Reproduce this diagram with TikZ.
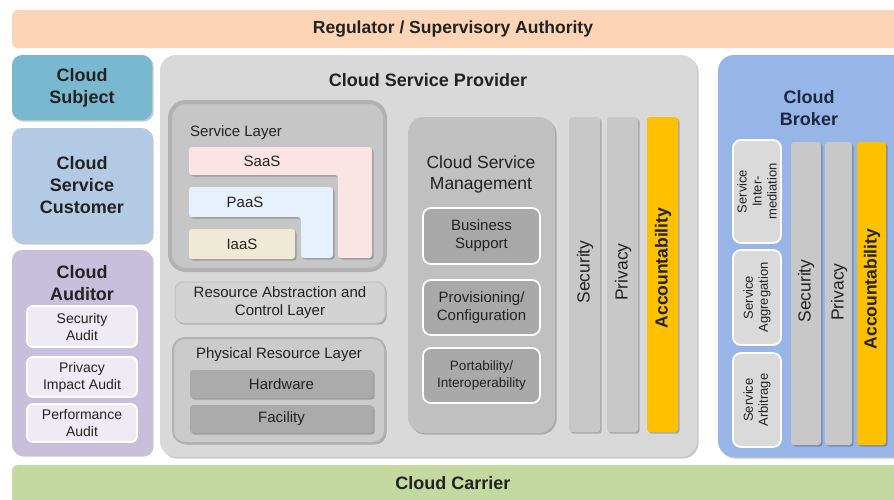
\documentclass[tikz,border=0pt]{standalone}
\usepackage{fontspec}
\setmainfont{Liberation Sans}
\usetikzlibrary{fit,shadows}
\definecolor{txt}{HTML}{222222}
\definecolor{navy}{HTML}{1C2743}
\definecolor{reg}{HTML}{FBD5B5}
\definecolor{subj}{HTML}{79B9CF}
\definecolor{cust}{HTML}{B3CAE4}
\definecolor{aud}{HTML}{C8BFDD}
\definecolor{audin}{HTML}{EFEBF5}
\definecolor{prov}{HTML}{D9D9D9}
\definecolor{slg}{HTML}{C6C6C6}
\definecolor{slgb}{HTML}{B2B2B2}
\definecolor{saas}{HTML}{FCE4E4}
\definecolor{paas}{HTML}{E7F1FC}
\definecolor{iaas}{HTML}{EEEAD5}
\definecolor{ral}{HTML}{D3D3D3}
\definecolor{prg}{HTML}{CBCBCB}
\definecolor{hw}{HTML}{ABABAB}
\definecolor{csm}{HTML}{C0C0C0}
\definecolor{csmin}{HTML}{A9A9A9}
\definecolor{bar}{HTML}{C8C8C8}
\definecolor{acc}{HTML}{FFC000}
\definecolor{brk}{HTML}{97B5E6}
\definecolor{brkin}{HTML}{DADADA}
\definecolor{carr}{HTML}{C4D9A0}
\begin{document}
\begin{tikzpicture}[x=1pt,y=-1pt,
  rb/.style={rectangle, rounded corners=#1, inner sep=0pt, outer sep=0pt, text=txt, align=center},
  rb/.default=10pt,
  shd/.style={drop shadow={shadow xshift=1.6pt, shadow yshift=-1.6pt, opacity=0.22, fill=black}},
  ttl/.style={font=\fontsize{18}{22}\selectfont\bfseries},
  lab/.style={inner sep=0pt, text=txt, align=center, font=\fontsize{15}{18}\selectfont},
  sml/.style={font=\fontsize{14}{17}\selectfont},
  rot/.style={inner sep=0pt, text=txt, align=center, rotate=90, font=\fontsize{13}{15}\selectfont},
  bart/.style={inner sep=0pt, text=txt, rotate=90, font=\fontsize{17.5}{20}\selectfont},
  accb/.style={inner sep=0pt, text=txt, rotate=90, font=\fontsize{17.5}{20}\selectfont\bfseries},
  whb/.style={draw=white, line width=1.8pt}
]
\useasboundingbox (0,0) rectangle (894,499);
\fill[white] (0,0) rectangle (894,499);

% top and bottom bars
\node[rb=6pt, fill=reg, fit={(12,10)(900,48)}] (reg) {};
\node[lab, font=\fontsize{17.5}{21}\selectfont\bfseries] (regt) at (453,29) {Regulator / Supervisory Authority};
\node[rb=6pt, fill=carr, fit={(12,465)(900,510)}] (carr) {};
\node[lab, ttl] (carrt) at (453,483) {Cloud Carrier};

% left column
\node[rb, fill=subj, shd, fit={(12,55)(152,120)}] (subj) {};
\node[lab, ttl] (subjt) at (subj.center) {Cloud\\Subject};
\node[rb, fill=cust, shd, fit={(12,128)(152,243)}] (cust) {};
\node[lab, ttl] (custt) at (cust.center) {Cloud\\Service\\Customer};
\node[rb, fill=aud, shd, fit={(12,250)(152,455)}] (aud) {};
\node[lab, ttl] (audt) at (82,283) {Cloud\\Auditor};
\node[rb=6pt, fill=audin, whb, fit={(27,306)(137,347)}] (secaud) {};
\node[lab, sml] at (secaud.center) {Security\\Audit};
\node[rb=6pt, fill=audin, whb, fit={(27,357)(137,397)}] (privaud) {};
\node[lab, sml] at (privaud.center) {Privacy\\Impact Audit};
\node[rb=6pt, fill=audin, whb, fit={(27,404)(137,442)}] (perfaud) {};
\node[lab, sml] at (perfaud.center) {Performance\\Audit};

% provider
\node[rb=16pt, fill=prov, shd, fit={(160,55)(697,457)}] (prov) {};
\node[lab, ttl] (provt) at (428,80) {Cloud Service Provider};

% service layer group
\node[rb=16pt, fill=slg, draw=slgb, line width=4pt, fit={(170,102)(385,270)}] (slg) {};
\node[lab, anchor=west] (slgt) at (190,133) {Service Layer};
\fill[saas, shd, rounded corners=3pt] (189,147) -- (372,147) -- (372,258) -- (338,258) -- (338,175) -- (189,175) -- cycle;
\node[lab] (saast) at (262,161) {SaaS};
\fill[paas, shd, rounded corners=3pt] (189,187) -- (333,187) -- (333,258) -- (301,258) -- (301,217) -- (189,217) -- cycle;
\node[lab] (paast) at (245,202) {PaaS};
\node[rb=3pt, fill=iaas, shd, fit={(189,229)(295,259)}] (iaas) {};
\node[lab] (iaast) at (iaas.center) {IaaS};

% resource abstraction
\node[rb=8pt, fill=ral, draw=slgb!80, line width=1pt, shd, fit={(175,282)(385,323)}] (ral) {};
\node[lab] (ralt) at (ral.center) {Resource Abstraction and\\Control Layer};

% physical resource layer
\node[rb=12pt, fill=prg, draw=slgb, line width=2pt, shd, fit={(173,338)(385,443)}] (prl) {};
\node[lab] (prlt) at (279,355) {Physical Resource Layer};
\node[rb=3pt, fill=hw, shd, fit={(190,370)(373,398)}] (hw) {};
\node[lab] (hwt) at (hw.center) {Hardware};
\node[rb=3pt, fill=hw, shd, fit={(190,405)(373,433)}] (fac) {};
\node[lab] (fact) at (fac.center) {Facility};

% cloud service management
\node[rb=16pt, fill=csm, shd, fit={(408,117)(555,433)}] (csm) {};
\node[lab, font=\fontsize{17.5}{21}\selectfont] (csmt) at (481,174) {Cloud Service\\Management};
\node[rb=8pt, fill=csmin, whb, fit={(423,208)(540,264)}] (bs) {};
\node[lab] (bst) at (bs.center) {Business\\Support};
\node[rb=8pt, fill=csmin, whb, fit={(423,280)(540,335)}] (pc) {};
\node[lab] (pct) at (pc.center) {Provisioning/\\Configuration};
\node[rb=8pt, fill=csmin, whb, fit={(423,348)(540,403)}] (pi) {};
\node[lab, font=\fontsize{13.5}{17}\selectfont] (pit) at (pi.center) {Portability/\\Interoperability};

% provider bars
\node[rb=3pt, fill=bar, shd, fit={(569,117)(600,432)}] (psec) {};
\node[bart] (psect) at (585,272) {Security};
\node[rb=3pt, fill=bar, shd, fit={(607,117)(638,432)}] (ppriv) {};
\node[bart] (pprivt) at (623,272) {Privacy};
\node[rb=3pt, fill=acc, shd, fit={(647,117)(678,432)}] (pacc) {};
\node[accb] (pacct) at (663,268) {Accountability};

% broker
\node[rb=16pt, fill=brk, shd, fit={(718,55)(910,457)}] (brk) {};
\node[lab, ttl, text=navy] (brkt) at (809,108) {Cloud\\Broker};
\node[rb=8pt, fill=brkin, whb, fit={(733,140)(781,243)}] (sint) {};
\node[rot] (sintt) at (sint.center) {Service\\Inter-\\mediation};
\node[rb=8pt, fill=brkin, whb, fit={(733,250)(781,345)}] (sagg) {};
\node[rot] (saggt) at (sagg.center) {Service\\Aggregation};
\node[rb=8pt, fill=brkin, whb, fit={(733,353)(781,447)}] (sarb) {};
\node[rot] (sarbt) at (sarb.center) {Service\\Arbitrage};
\node[rb=3pt, fill=bar, shd, fit={(791,142)(821,445)}] (bsec) {};
\node[bart] (bsect) at (806,291) {Security};
\node[rb=3pt, fill=bar, shd, fit={(825,142)(852,445)}] (bpriv) {};
\node[bart] (bprivt) at (839,292) {Privacy};
\node[rb=3pt, fill=acc, shd, fit={(857,142)(886,445)}] (bacc) {};
\node[accb] (bacct) at (872,289) {Accountability};
\end{tikzpicture}
\end{document}
